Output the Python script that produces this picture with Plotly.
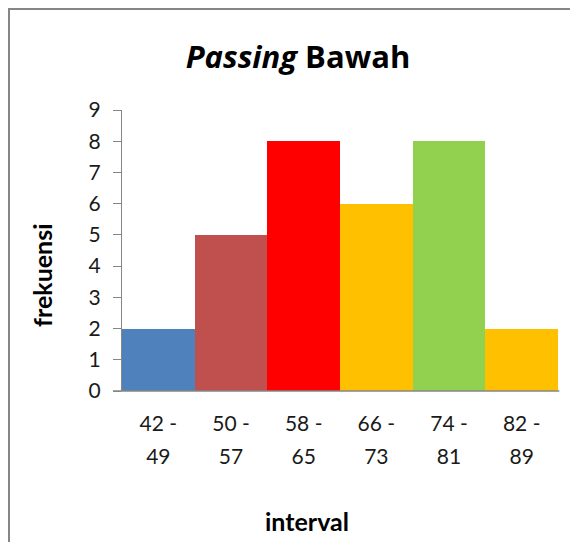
import plotly.graph_objects as go

categories = ["42 - 49", "50 - 57", "58 - 65", "66 - 73", "74 - 81", "82 - 89"]
tick_line1 = ["42 -", "50 -", "58 -", "66 -", "74 -", "82 -"]
tick_line2 = ["49", "57", "65", "73", "81", "89"]
frekuensi = [2, 5, 8, 6, 8, 2]
bar_colors = ["#4F81BD", "#C0504D", "#FF0000", "#FFC000", "#92D050", "#FFC000"]
y_ticks = list(range(0, 10))

FONT = "Lato"
OFF = 8  # page body margin
W, H = 578 - OFF, 542 - OFF
L, T = 122 - OFF, 110 - OFF
R = W - (558 - OFF)
B = H - (391 - OFF)
pw, ph = W - L - R, H - T - B

def px_x(x):
    return (x - OFF - L) / pw

def px_y(y):
    return (H - B - (y - OFF)) / ph

fig = go.Figure()
# invisible twin to carry the second line of the interval labels
fig.add_trace(go.Bar(
    x=categories, y=frekuensi, xaxis="x2",
    marker=dict(color="rgba(0,0,0,0)", line=dict(width=0)),
    hoverinfo="skip", showlegend=False,
))
fig.add_trace(go.Bar(
    x=categories, y=frekuensi,
    marker=dict(color=bar_colors, line=dict(width=0)),
    hoverinfo="x+y",
))

tickfont = dict(family=FONT, size=21, color="#1a1a1a")

fig.update_layout(
    width=W, height=H,
    margin=dict(l=L, r=R, t=T, b=B),
    paper_bgcolor="white", plot_bgcolor="white",
    bargap=0, barmode="overlay", showlegend=False,
    font=dict(family=FONT, size=21, color="#1a1a1a"),
    title=dict(text="<b><i>Passing</i> Bawah</b>", x=(298 - OFF) / W,
               xanchor="center", y=1 - (57 - OFF) / H, yanchor="middle",
               font=dict(family="Open Sans", size=31, color="black")),
    xaxis=dict(type="category", tickmode="array", tickvals=categories, ticktext=tick_line1,
               showline=False, ticks="", showgrid=False, ticklabelstandoff=18,
               tickfont=tickfont),
    xaxis2=dict(type="category", overlaying="x", matches="x", side="bottom", anchor="y",
                tickmode="array", tickvals=categories, ticktext=tick_line2,
                showline=False, ticks="", showgrid=False, ticklabelstandoff=51,
                tickfont=tickfont),
    yaxis=dict(range=[0, 9], tickmode="array", tickvals=y_ticks,
               showline=True, linecolor="#868686", linewidth=1,
               ticks="outside", ticklen=8, tickcolor="#868686", showgrid=False,
               zeroline=False, ticklabelstandoff=8, tickfont=tickfont),
)

# x axis line (extends slightly left like the original)
fig.add_shape(type="line", xref="paper", yref="paper",
              x0=px_x(113), x1=1.003, y0=0, y1=0,
              line=dict(color="#868686", width=1.5))

# chart border
fig.add_shape(type="rect", xref="paper", yref="paper",
              x0=px_x(9), x1=px_x(600), y0=px_y(600), y1=px_y(9),
              line=dict(color="#868686", width=2))

fig.add_annotation(text="<b>interval</b>", xref="paper", yref="paper",
                   x=px_x(307), y=px_y(521), showarrow=False,
                   xanchor="center", yanchor="middle",
                   font=dict(family=FONT, size=25, color="black"))
fig.add_annotation(text="<b>frekuensi</b>", xref="paper", yref="paper",
                   x=px_x(42), y=px_y(275), showarrow=False, textangle=-90,
                   xanchor="center", yanchor="middle",
                   font=dict(family=FONT, size=25, color="black"))

fig.write_html("out.html")
